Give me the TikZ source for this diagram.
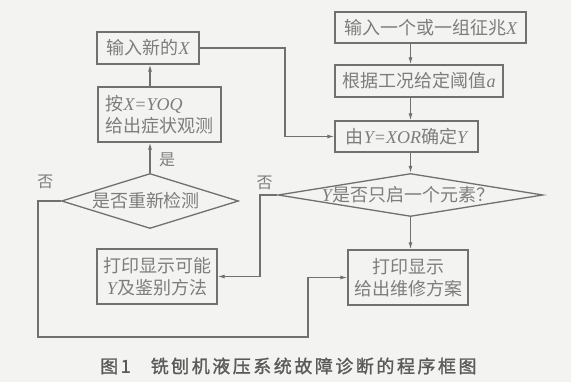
\documentclass[tikz,border=0pt]{standalone}
\usepackage{fontspec}
\setmainfont{Liberation Serif}
\newfontfamily\cjk{Noto Sans CJK SC}
\newfontfamily\cjkcap{Noto Sans CJK SC}[LetterSpace=14, FakeBold=1.2]
\usetikzlibrary{shapes.geometric,arrows.meta}
\definecolor{bg}{RGB}{243,243,241}
\definecolor{ln}{RGB}{112,112,112}
\definecolor{tx}{RGB}{125,125,125}
\definecolor{capc}{RGB}{90,90,90}
\newcommand{\varit}[1]{{\rmfamily\itshape #1}}
\begin{document}
\begin{tikzpicture}[x=1pt,y=-1pt,
  box/.style={draw=ln, line width=1.3pt, rectangle, inner sep=0pt, text=tx, font=\cjk\fontsize{18}{22}\selectfont, align=center},
  dia/.style={draw=ln, line width=1.3pt, diamond, inner sep=0pt},
  lbl/.style={text=tx, font=\cjk\fontsize{18}{22}\selectfont, inner sep=0pt},
  yn/.style={text=tx, font=\cjk\fontsize{16}{18}\selectfont, inner sep=0pt},
  arr/.style={draw=ln, line width=1.1pt, -{Latex[length=7pt,width=4pt]}}]

\fill[bg] (0,0) rectangle (571,382);
\useasboundingbox (0,0) rectangle (571,382);

% left column
\node[box, minimum width=102pt, minimum height=32pt] (n1) at (148,48) {输入新的\varit{X}};
\node[box, minimum width=123pt, minimum height=55pt, align=left] (n2) at (159.5,114.5) {按\varit{X=YOQ}\\给出症状观测};
\node[dia, minimum width=177pt, minimum height=55pt] (d1) at (150,201) {};
\node[lbl] (t1) at (146,201) {是否重新检测};
\node[box, minimum width=120pt, minimum height=55pt] (n3) at (157,276.5) {打印显示可能\\\varit{Y}及鉴别方法};

% right column
\node[box, minimum width=191pt, minimum height=31pt] (r1) at (430.5,27.5) {输入一个或一组征兆\varit{X}};
\node[box, minimum width=168pt, minimum height=32pt] (r2) at (419,81) {根据工况给定阈值\varit{a}};
\node[box, minimum width=143pt, minimum height=31pt] (r3) at (406.5,136.5) {由\varit{Y=XOR}确定\varit{Y}};
\node[dia, minimum width=265pt, minimum height=43pt] (d2) at (410.5,195) {};
\node[lbl] (t2) at (408,195) {\varit{Y}是否只启一个元素？};
\node[box, minimum width=120pt, minimum height=55pt] (r4) at (408,277.5) {打印显示\\给出维修方案};

% yes / no labels
\node[yn] (yes) at (167,160) {是};
\node[yn] (no1) at (45.5,182) {否};
\node[yn] (no2) at (264.5,183) {否};

% connectors
\draw[arr] (d1.north) -- (d1.north |- n2.south);
\draw[arr] (n2.north -| d1.north) -- (n1.south -| d1.north);

\coordinate (k1) at (285,136.5);
\draw[arr] (n1.east) -| (k1) -- (r3.west);

\draw[arr] (r1.south -| d2.north) -- (r2.north -| d2.north);
\draw[arr] (r2.south -| d2.north) -- (r3.north -| d2.north);
\draw[arr] (r3.south -| d2.north) -- (d2.north);
\draw[arr] (d2.south) -- (d2.south |- r4.north);

\coordinate (k2) at (260,276.5);
\draw[arr] (d2.west) -| (k2) -- (n3.east);

\coordinate (k3) at (38,337);
\coordinate (k4) at (308,337);
\draw[arr] (d1.west) -| (k3) -- (k4) |- (r4.west);

% caption
\node[text=capc, font=\cjkcap\fontsize{18}{22}\selectfont, anchor=west, inner sep=0pt] (cap) at (100,366) {图1\hspace{20pt}铣刨机液压系统故障诊断的程序框图};
\end{tikzpicture}
\end{document}
